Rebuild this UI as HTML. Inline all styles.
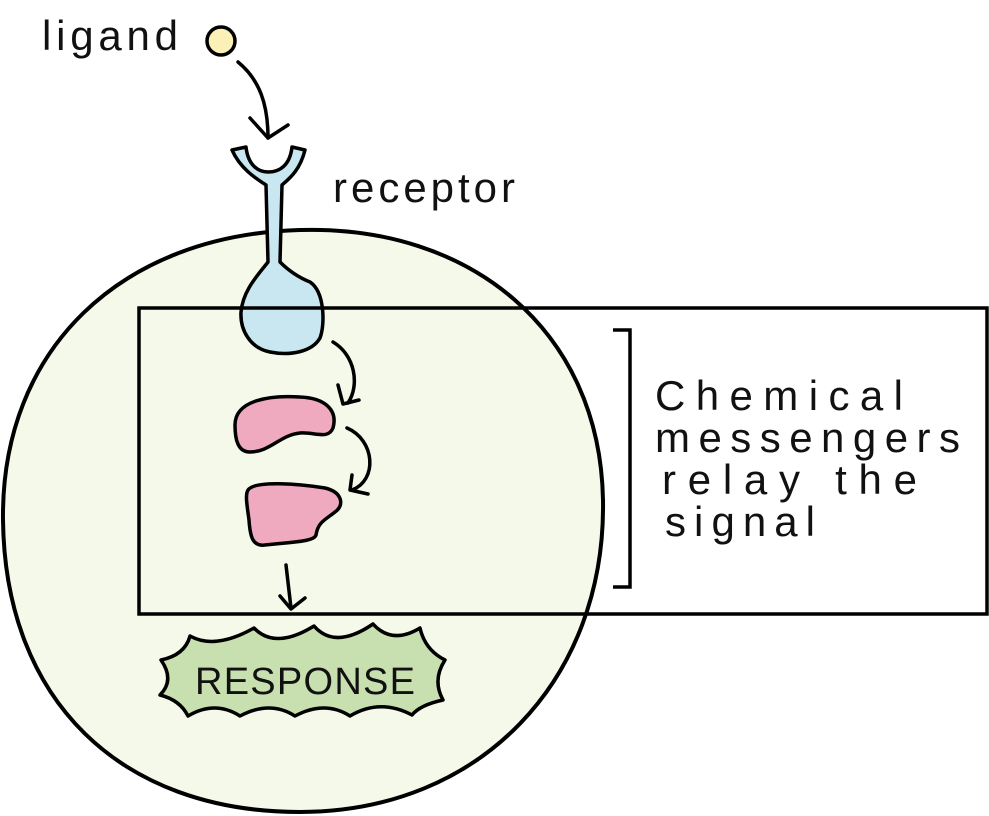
<!DOCTYPE html>
<html><head><meta charset="utf-8"><style>
html,body{margin:0;padding:0;background:#fff;}
svg{display:block;}
text{font-family:"Liberation Sans",sans-serif;fill:#111;}
</style></head><body>
<svg width="989" height="816" viewBox="0 0 989 816" xmlns="http://www.w3.org/2000/svg">
<path d="M300,230 C470,225 600,330 603,500 C606,680 480,812 300,812 C120,812 5,700 3,520 C1,350 120,235 300,230 Z" fill="#f5f9e9" stroke="#000" stroke-width="4"/>
<path d="M232,150 L246,147 C248,165 258,172 268,172 C280,172 290,165 292,147 L305,150 C300,170 290,178 282,185 L280,262 C290,272 300,278 310,282 C325,292 325,325 320,338 C312,352 290,356 270,352 C250,348 240,330 241,312 C243,290 258,275 268,262 L266,185 C255,178 240,168 232,150 Z" fill="#c8e7f1" stroke="#000" stroke-width="3.5" stroke-linejoin="round"/>
<rect x="139" y="308" width="848" height="306" fill="none" stroke="#000" stroke-width="3.5"/>
<circle cx="221" cy="41" r="14" fill="#fbf0b5" stroke="#000" stroke-width="3.5"/>
<text x="42" y="50" font-size="42" textLength="136" lengthAdjust="spacing">ligand</text>
<text x="333" y="202" font-size="42" textLength="182" lengthAdjust="spacing">receptor</text>
<path d="M238,62 C260,80 268,105 268,138" fill="none" stroke="#000" stroke-width="3.5" stroke-linecap="round"/>
<path d="M250,118 L268,138 L288,125" fill="none" stroke="#000" stroke-width="3.5" stroke-linecap="round" stroke-linejoin="round"/>
<path d="M235,425 C235,400 270,395 300,397 C325,398 338,410 333,428 C328,440 315,432 300,433 C280,435 270,452 250,452 C238,452 235,440 235,425 Z" fill="#efaac0" stroke="#000" stroke-width="3.5"/>
<path d="M248,490 C255,480 300,484 325,488 C342,492 345,505 335,512 C325,520 318,522 316,535 C314,542 290,542 265,545 C252,547 250,535 249,520 C247,505 245,495 248,490 Z" fill="#efaac0" stroke="#000" stroke-width="3.5"/>
<path d="M333,342 C355,355 360,385 348,403" fill="none" stroke="#000" stroke-width="3.5" stroke-linecap="round"/>
<path d="M338,385 L343,404 L359,400" fill="none" stroke="#000" stroke-width="3.5" stroke-linecap="round" stroke-linejoin="round"/>
<path d="M347,428 C375,440 378,480 352,490" fill="none" stroke="#000" stroke-width="3.5" stroke-linecap="round"/>
<path d="M352,475 L350,490 L368,494" fill="none" stroke="#000" stroke-width="3.5" stroke-linecap="round" stroke-linejoin="round"/>
<path d="M286,565 L291,608" fill="none" stroke="#000" stroke-width="3.5" stroke-linecap="round"/>
<path d="M280,596 L291,609 L305,598" fill="none" stroke="#000" stroke-width="3.5" stroke-linecap="round" stroke-linejoin="round"/>
<path d="M190,636 Q215,650 254,628 Q275,650 314,626 Q335,650 373,624 Q392,645 420,628 Q425,650 445,660 Q432,680 443,700 Q420,705 412,715 Q380,698 350,716 Q325,700 295,716 Q270,700 240,716 Q215,700 188,716 Q180,700 160,695 Q175,680 161,660 Q185,655 190,636 Z" fill="#c8e0b0" stroke="#000" stroke-width="3.5" stroke-linejoin="round"/>
<text x="195" y="694" font-size="38" textLength="220" lengthAdjust="spacing">RESPONSE</text>
<path d="M613,330 L630,330 L630,587 L613,587" fill="none" stroke="#000" stroke-width="3.5"/>
<text font-size="42">
<tspan x="655" y="410" textLength="248" lengthAdjust="spacing">Chemical</tspan>
<tspan x="655" y="452" textLength="305" lengthAdjust="spacing">messengers</tspan>
<tspan x="662" y="494" textLength="255" lengthAdjust="spacing">relay the</tspan>
<tspan x="665" y="536" textLength="150" lengthAdjust="spacing">signal</tspan>
</text>
</svg>
</body></html>
